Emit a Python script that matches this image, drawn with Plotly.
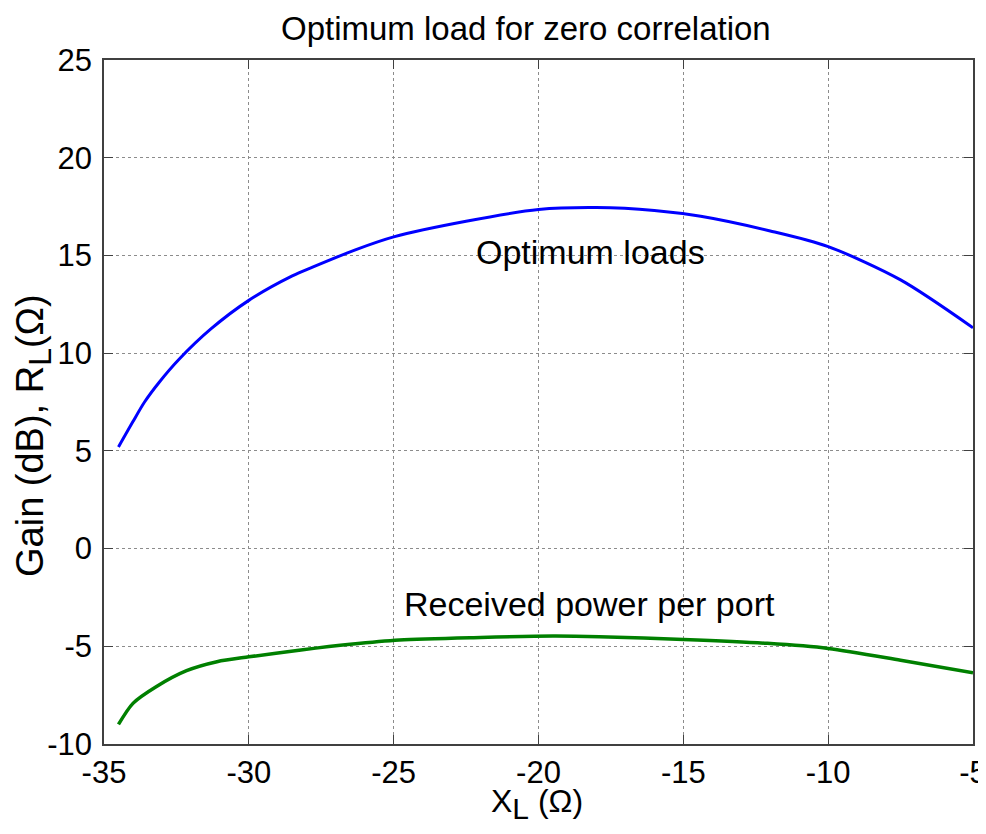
import plotly.graph_objects as go

# Data
opt_x = [-34.5, -34.0, -33.6, -33.1, -32.4, -31.3, -30.0, -28.5, -27.8, -26.3, -25.0,
         -22.5, -20.0, -18.0, -16.0, -14.4, -12.0, -10.0, -7.5, -5.0]
opt_y = [5.2, 6.5, 7.5, 8.5, 9.7, 11.25, 12.7, 13.95, 14.4, 15.3, 15.95,
         16.75, 17.35, 17.45, 17.3, 17.0, 16.25, 15.45, 13.75, 11.3]

pwr_x = [-34.5, -34.0, -33.2, -32.15, -31.1, -30.0, -28.2, -26.5, -24.8, -22.0,
         -19.5, -17.9, -15.0, -12.1, -10.0, -7.5, -5.0]
pwr_y = [-9.0, -7.92, -7.07, -6.25, -5.79, -5.54, -5.19, -4.9, -4.68, -4.55,
         -4.48, -4.51, -4.65, -4.85, -5.11, -5.71, -6.36]

x_ticks = [-35, -30, -25, -20, -15, -10, -5]
y_ticks = [-10, -5, 0, 5, 10, 15, 20, 25]

FONT = "Liberation Sans, Arial, Helvetica, sans-serif"

fig = go.Figure()
fig.add_trace(go.Scatter(x=opt_x, y=opt_y, mode="lines",
                         line=dict(color="#0000FF", width=3, shape="spline", smoothing=0.8),
                         showlegend=False))
fig.add_trace(go.Scatter(x=pwr_x, y=pwr_y, mode="lines",
                         line=dict(color="#008000", width=3.5, shape="spline", smoothing=0.8),
                         showlegend=False))

axis_common = dict(
    showline=True, linecolor="#404040", linewidth=1.5, mirror="ticks",
    ticks="inside", ticklen=9, tickcolor="#404040", tickwidth=1,
    showgrid=True, gridcolor="#8c8c8c", griddash="dot", gridwidth=1,
    zeroline=False, tickfont=dict(family=FONT, size=31, color="black"),
    ticklabeloverflow="allow", automargin=False,
)

fig.update_xaxes(range=[-35, -5], tickvals=x_ticks,
                 ticktext=[str(v) for v in x_ticks], **axis_common)
fig.update_yaxes(range=[-10, 25], tickvals=y_ticks,
                 ticktext=[str(v) for v in y_ticks], ticklabelstandoff=4, **axis_common)

# The page body has an 8px margin; the figure is sized to end at the window
# edge without scrollbars, and positions are given in window pixels.
OFF = 8
W, H = 986 - OFF, 834 - 2 * OFF
PL, PR, PT, PB = 104, 973, 60, 744   # plot area in window pixels
L, R, T, B = PL - OFF, (W + OFF) - PR, PT - OFF, (H + OFF) - PB

def px_x(p):
    return (p - PL) / (PR - PL)

def px_y(p):
    return 1 - (p - PT) / (PB - PT)

annotations = [
    dict(text="Optimum load for zero correlation", x=px_x(526), y=px_y(28),
         font=dict(size=33)),
    dict(text="X<sub><span style='font-size:30px'>L</span></sub> (Ω)",
         x=px_x(537), y=px_y(804), font=dict(size=32)),
    dict(text="Gain (dB), R<sub><span style='font-size:32px'>L</span></sub>(Ω)",
         x=px_x(33), y=px_y(436), textangle=-90, font=dict(size=38)),
    dict(text="Optimum loads", x=px_x(590), y=px_y(252), font=dict(size=34)),
    dict(text="Received power per port", x=px_x(589), y=px_y(604), font=dict(size=34)),
]
for a in annotations:
    a.update(xref="paper", yref="paper", showarrow=False, xanchor="center", yanchor="middle",
             borderpad=0)
    a["font"].update(family=FONT, color="black")

fig.update_layout(
    width=W, height=H,
    margin=dict(l=L, r=R, t=T, b=B),
    paper_bgcolor="white", plot_bgcolor="white",
    annotations=annotations,
    font=dict(family=FONT, color="black"),
)

fig.write_html("out.html")
